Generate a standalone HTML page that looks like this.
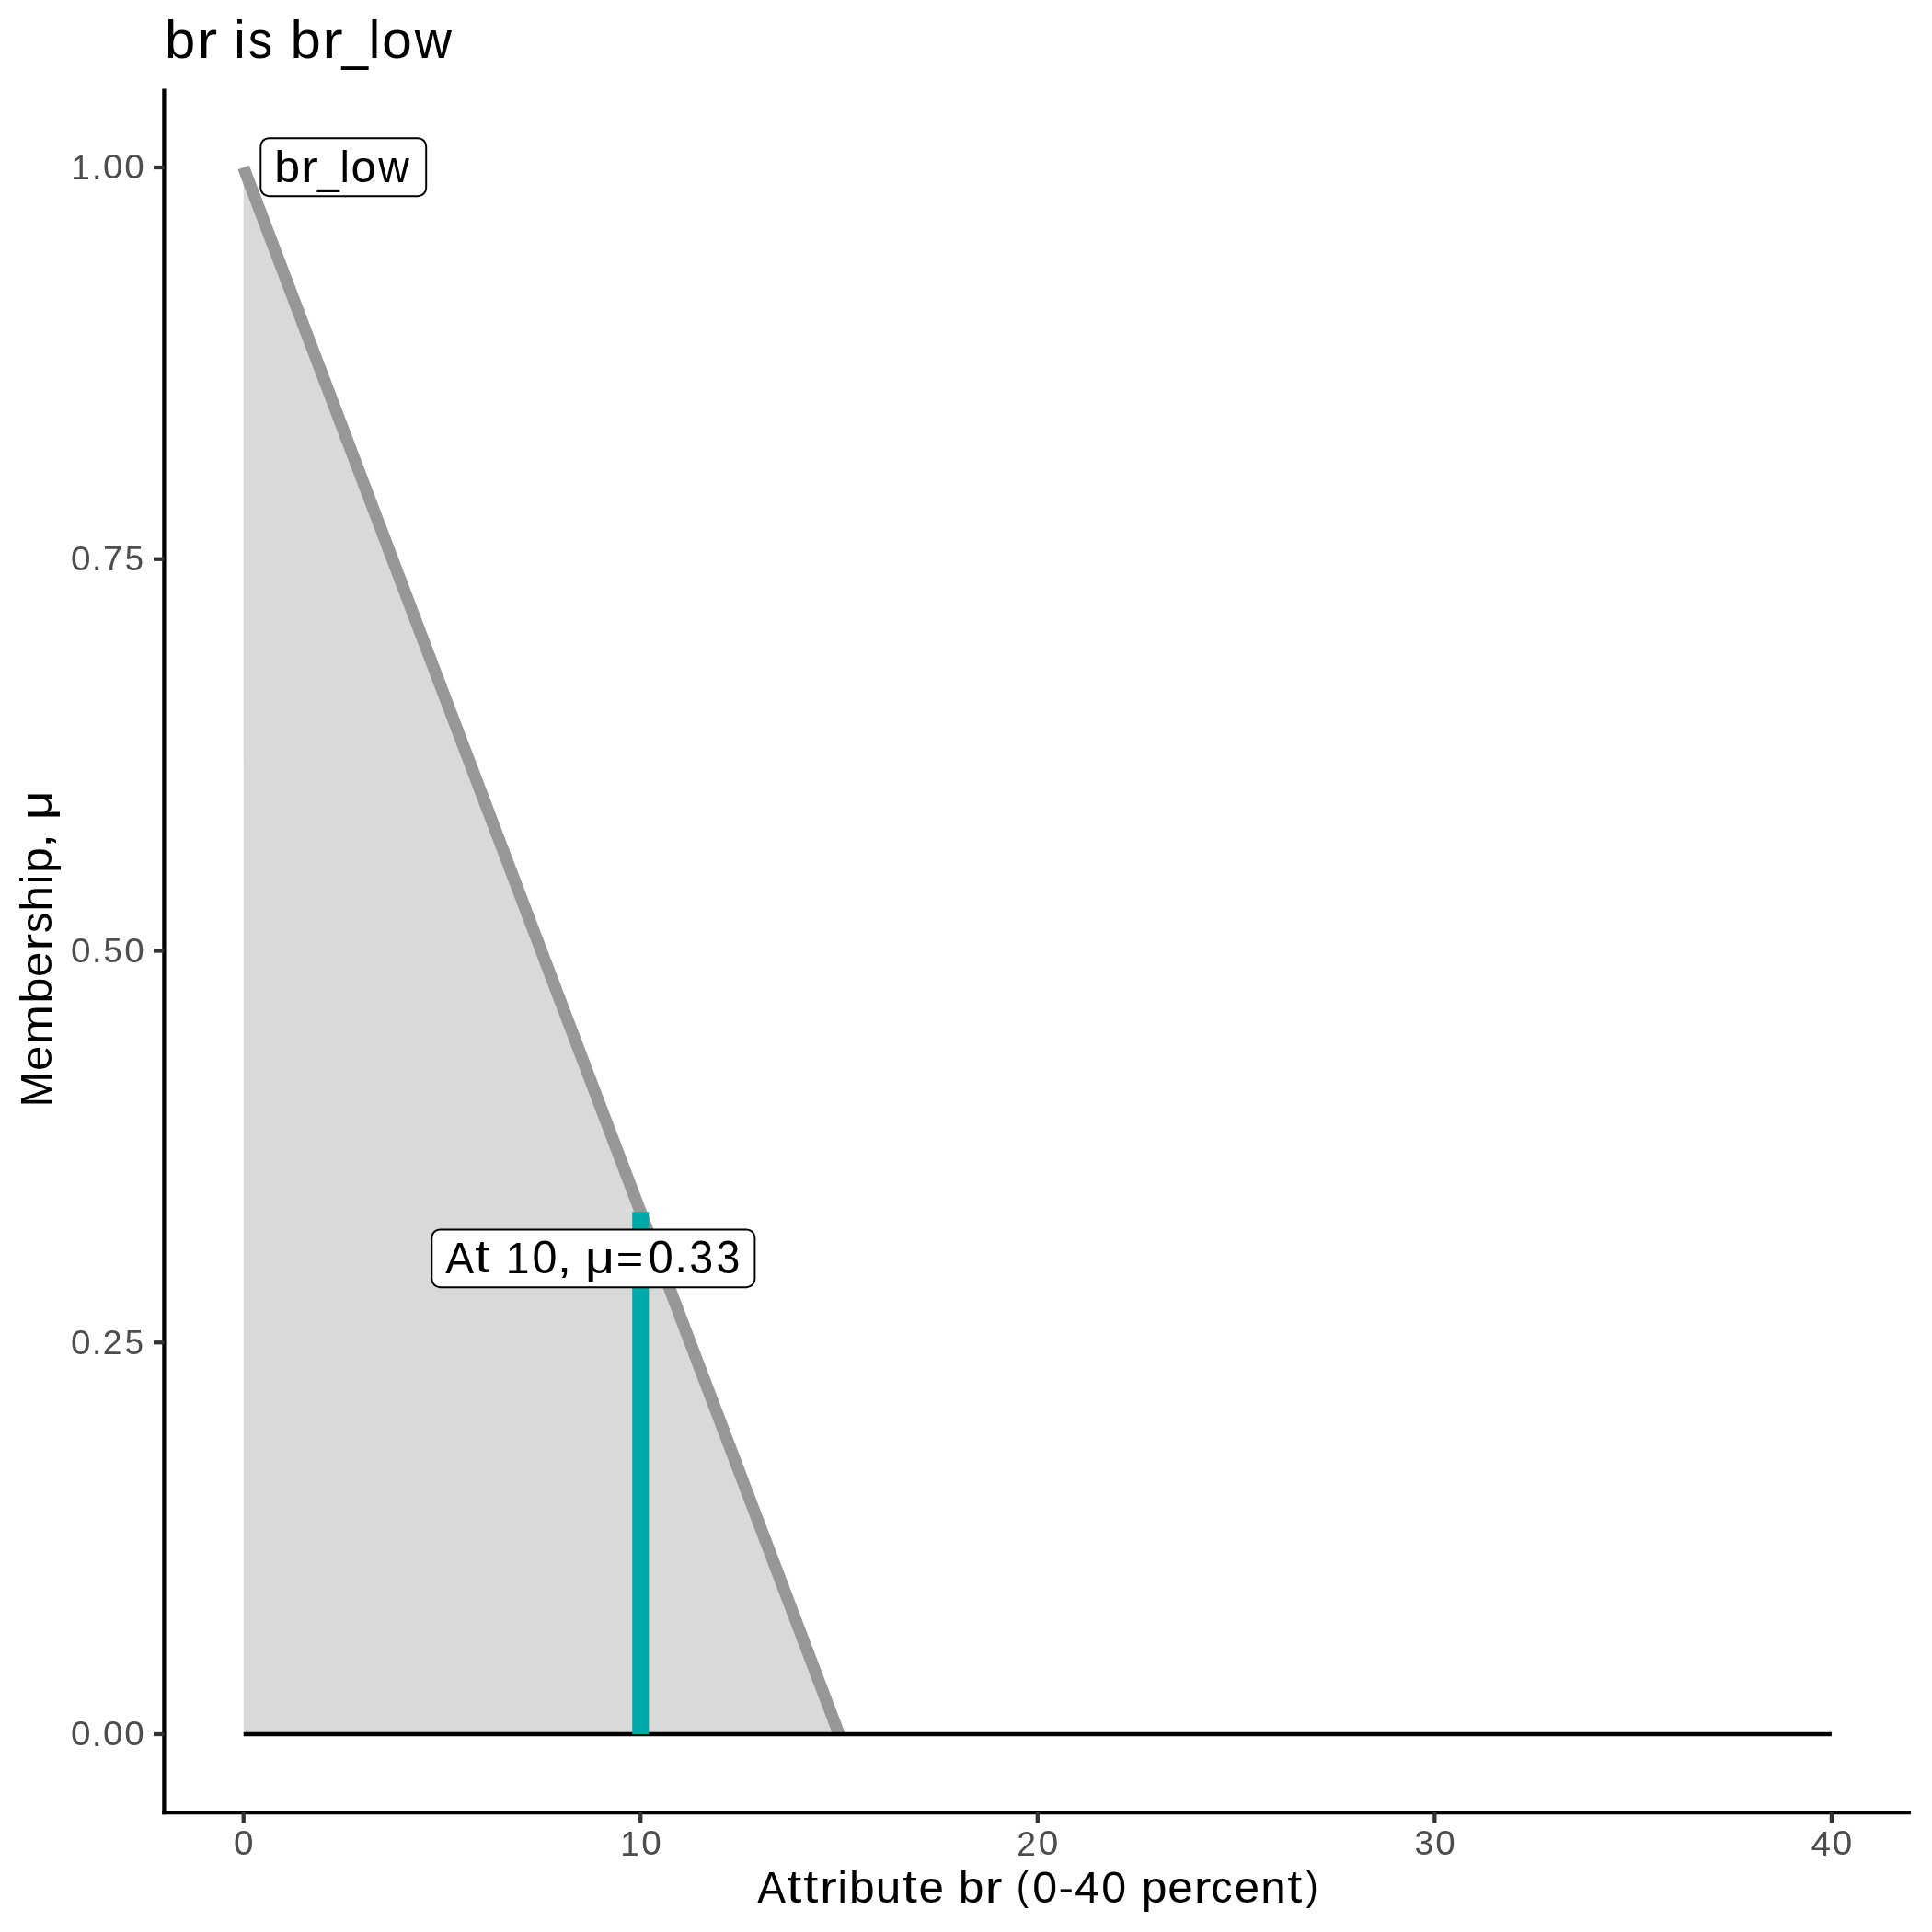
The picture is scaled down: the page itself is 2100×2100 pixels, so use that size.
<!DOCTYPE html>
<html>
<head>
<meta charset="utf-8">
<title>br is br_low</title>
<style>
html,body{margin:0;padding:0;background:#ffffff;width:2100px;height:2100px;overflow:hidden;}
svg{display:block;will-change:transform;}
text{font-family:"Liberation Sans",sans-serif;}
</style>
</head>
<body>
<svg width="2100" height="2100" viewBox="0 0 2100 2100">
<rect x="0" y="0" width="2100" height="2100" fill="#ffffff"/>
<polygon points="264.7,182 264.7,1885 912.03,1885" fill="#d9d9d9"/>
<line x1="264.7" y1="182" x2="912.03" y2="1885" stroke="#979797" stroke-width="13.2" stroke-linecap="butt"/>
<line x1="264.7" y1="1885" x2="1990.9" y2="1885" stroke="#000000" stroke-width="4.27"/>
<rect x="687.2" y="1317.33" width="18.1" height="567.67" fill="#00aaaa"/>
<line x1="178.4" y1="96.4" x2="178.4" y2="1972.25" stroke="#000000" stroke-width="4.27"/>
<line x1="176.27" y1="1970.1" x2="2077" y2="1970.1" stroke="#000000" stroke-width="4.27"/>
<g stroke="#333333" stroke-width="4.27">
<line x1="167.0" y1="1885" x2="178.4" y2="1885"/>
<line x1="167.0" y1="1459.25" x2="178.4" y2="1459.25"/>
<line x1="167.0" y1="1033.5" x2="178.4" y2="1033.5"/>
<line x1="167.0" y1="607.75" x2="178.4" y2="607.75"/>
<line x1="167.0" y1="182" x2="178.4" y2="182"/>
<line x1="264.7" y1="1970.1" x2="264.7" y2="1981.5"/>
<line x1="696.25" y1="1970.1" x2="696.25" y2="1981.5"/>
<line x1="1127.8" y1="1970.1" x2="1127.8" y2="1981.5"/>
<line x1="1559.35" y1="1970.1" x2="1559.35" y2="1981.5"/>
<line x1="1990.9" y1="1970.1" x2="1990.9" y2="1981.5"/>
</g>
<text transform="translate(157.7,1897.7)" fill="#4d4d4d"><tspan x="-80.73" y="-0.36" font-size="36.44" textLength="21.50" lengthAdjust="spacingAndGlyphs">0</tspan><tspan x="-58.01" y="-0.08" font-size="41.07" textLength="11.02" lengthAdjust="spacingAndGlyphs">.</tspan><tspan x="-45.75" y="-0.36" font-size="36.44" textLength="21.50" lengthAdjust="spacingAndGlyphs">0</tspan><tspan x="-22.42" y="-0.36" font-size="36.44" textLength="21.50" lengthAdjust="spacingAndGlyphs">0</tspan></text>
<text transform="translate(157.7,1471.95)" fill="#4d4d4d"><tspan x="-80.73" y="-0.36" font-size="36.44" textLength="21.50" lengthAdjust="spacingAndGlyphs">0</tspan><tspan x="-58.01" y="-0.08" font-size="41.07" textLength="11.02" lengthAdjust="spacingAndGlyphs">.</tspan><tspan x="-45.85" y="0" font-size="36.95" textLength="20.72" lengthAdjust="spacingAndGlyphs">2</tspan><tspan x="-21.96" y="-0.36" font-size="36.98" textLength="20.29" lengthAdjust="spacingAndGlyphs">5</tspan></text>
<text transform="translate(157.7,1046.2)" fill="#4d4d4d"><tspan x="-80.73" y="-0.36" font-size="36.44" textLength="21.50" lengthAdjust="spacingAndGlyphs">0</tspan><tspan x="-58.01" y="-0.08" font-size="41.07" textLength="11.02" lengthAdjust="spacingAndGlyphs">.</tspan><tspan x="-45.29" y="-0.36" font-size="36.98" textLength="20.29" lengthAdjust="spacingAndGlyphs">5</tspan><tspan x="-22.42" y="-0.36" font-size="36.44" textLength="21.50" lengthAdjust="spacingAndGlyphs">0</tspan></text>
<text transform="translate(157.7,620.45)" fill="#4d4d4d"><tspan x="-80.73" y="-0.36" font-size="36.44" textLength="21.50" lengthAdjust="spacingAndGlyphs">0</tspan><tspan x="-58.01" y="-0.08" font-size="41.07" textLength="11.02" lengthAdjust="spacingAndGlyphs">.</tspan><tspan x="-45.59" y="0" font-size="37.50" textLength="21.03" lengthAdjust="spacingAndGlyphs">7</tspan><tspan x="-21.96" y="-0.36" font-size="36.98" textLength="20.29" lengthAdjust="spacingAndGlyphs">5</tspan></text>
<text transform="translate(157.7,194.7)" fill="#4d4d4d"><tspan x="-80.42" y="0" font-size="37.50" textLength="20.53" lengthAdjust="spacingAndGlyphs">1</tspan><tspan x="-58.01" y="-0.08" font-size="41.07" textLength="11.02" lengthAdjust="spacingAndGlyphs">.</tspan><tspan x="-45.75" y="-0.36" font-size="36.44" textLength="21.50" lengthAdjust="spacingAndGlyphs">0</tspan><tspan x="-22.42" y="-0.36" font-size="36.44" textLength="21.50" lengthAdjust="spacingAndGlyphs">0</tspan></text>
<text transform="translate(264.7,2016.75)" fill="#4d4d4d"><tspan x="-10.76" y="-0.35" font-size="36.23" textLength="21.50" lengthAdjust="spacingAndGlyphs">0</tspan></text>
<text transform="translate(696.25,2016.75)" fill="#4d4d4d"><tspan x="-22.11" y="0" font-size="37.28" textLength="20.53" lengthAdjust="spacingAndGlyphs">1</tspan><tspan x="0.91" y="-0.35" font-size="36.23" textLength="21.50" lengthAdjust="spacingAndGlyphs">0</tspan></text>
<text transform="translate(1127.8,2016.75)" fill="#4d4d4d"><tspan x="-22.52" y="0" font-size="36.74" textLength="20.72" lengthAdjust="spacingAndGlyphs">2</tspan><tspan x="0.91" y="-0.35" font-size="36.23" textLength="21.50" lengthAdjust="spacingAndGlyphs">0</tspan></text>
<text transform="translate(1559.35,2016.75)" fill="#4d4d4d"><tspan x="-21.95" y="-0.35" font-size="36.23" textLength="20.64" lengthAdjust="spacingAndGlyphs">3</tspan><tspan x="0.91" y="-0.35" font-size="36.23" textLength="21.50" lengthAdjust="spacingAndGlyphs">0</tspan></text>
<text transform="translate(1990.9,2016.75)" fill="#4d4d4d"><tspan x="-22.43" y="0" font-size="37.28" textLength="21.50" lengthAdjust="spacingAndGlyphs">4</tspan><tspan x="0.91" y="-0.35" font-size="36.23" textLength="21.50" lengthAdjust="spacingAndGlyphs">0</tspan></text>
<text id="t_title" transform="translate(177.95,63)" fill="#000"><tspan x="1.14" y="0.21" font-size="57.96" textLength="33.28" lengthAdjust="spacingAndGlyphs">b</tspan><tspan x="35.79" y="0" font-size="57.25" textLength="22.49" lengthAdjust="spacingAndGlyphs">r</tspan> <tspan x="76.43" y="0" font-size="57.67" textLength="12.49" lengthAdjust="spacingAndGlyphs">i</tspan><tspan x="91.8" y="0.21" font-size="57.80" textLength="26.36" lengthAdjust="spacingAndGlyphs">s</tspan> <tspan x="137.56" y="0.21" font-size="57.96" textLength="33.28" lengthAdjust="spacingAndGlyphs">b</tspan><tspan x="172.21" y="0" font-size="57.25" textLength="22.49" lengthAdjust="spacingAndGlyphs">r</tspan><tspan x="193.5" y="0.95" font-size="60.50" textLength="28.60" lengthAdjust="spacingAndGlyphs">_</tspan><tspan x="222.84" y="0" font-size="57.67" textLength="12.49" lengthAdjust="spacingAndGlyphs">l</tspan><tspan x="237.31" y="0.22" font-size="57.65" textLength="32.52" lengthAdjust="spacingAndGlyphs">o</tspan><tspan x="272.77" y="0" font-size="56.93" textLength="40.15" lengthAdjust="spacingAndGlyphs">w</tspan></text>
<text id="t_xtitle" transform="translate(823.1,2068)" fill="#000"><tspan x="0.27" y="0" font-size="48.57" textLength="30.80" lengthAdjust="spacingAndGlyphs">A</tspan><tspan x="32.12" y="-0.38" font-size="49.18" textLength="16.12" lengthAdjust="spacingAndGlyphs">t</tspan><tspan x="50.09" y="-0.38" font-size="49.18" textLength="16.12" lengthAdjust="spacingAndGlyphs">t</tspan><tspan x="68.02" y="0" font-size="47.70" textLength="18.75" lengthAdjust="spacingAndGlyphs">r</tspan><tspan x="87.32" y="0" font-size="48.06" textLength="10.41" lengthAdjust="spacingAndGlyphs">i</tspan><tspan x="99.82" y="0.18" font-size="48.30" textLength="27.73" lengthAdjust="spacingAndGlyphs">b</tspan><tspan x="128.65" y="0.17" font-size="48.91" textLength="27.48" lengthAdjust="spacingAndGlyphs">u</tspan><tspan x="157.78" y="-0.38" font-size="49.18" textLength="16.12" lengthAdjust="spacingAndGlyphs">t</tspan><tspan x="175.41" y="0.18" font-size="48.04" textLength="27.53" lengthAdjust="spacingAndGlyphs">e</tspan> <tspan x="218.7" y="0.18" font-size="48.30" textLength="27.73" lengthAdjust="spacingAndGlyphs">b</tspan><tspan x="247.57" y="0" font-size="47.70" textLength="18.75" lengthAdjust="spacingAndGlyphs">r</tspan> <tspan x="281.79" y="-3.03" font-size="43.82" textLength="12.90" lengthAdjust="spacingAndGlyphs">(</tspan><tspan x="299.27" y="0.17" font-size="48.96" textLength="26.87" lengthAdjust="spacingAndGlyphs">0</tspan><tspan x="327.34" y="-0.08" font-size="46.98" textLength="16.45" lengthAdjust="spacingAndGlyphs">-</tspan><tspan x="344.97" y="0" font-size="48.57" textLength="26.87" lengthAdjust="spacingAndGlyphs">4</tspan><tspan x="374.13" y="0.17" font-size="48.96" textLength="26.87" lengthAdjust="spacingAndGlyphs">0</tspan> <tspan x="417.68" y="-0.27" font-size="47.24" textLength="27.73" lengthAdjust="spacingAndGlyphs">p</tspan><tspan x="446.25" y="0.18" font-size="48.04" textLength="27.53" lengthAdjust="spacingAndGlyphs">e</tspan><tspan x="474.75" y="0" font-size="47.70" textLength="18.75" lengthAdjust="spacingAndGlyphs">r</tspan><tspan x="493.44" y="0.18" font-size="48.04" textLength="22.99" lengthAdjust="spacingAndGlyphs">c</tspan><tspan x="518.49" y="0.18" font-size="48.04" textLength="27.53" lengthAdjust="spacingAndGlyphs">e</tspan><tspan x="547.14" y="0" font-size="47.70" textLength="27.48" lengthAdjust="spacingAndGlyphs">n</tspan><tspan x="576.07" y="-0.38" font-size="49.18" textLength="16.12" lengthAdjust="spacingAndGlyphs">t</tspan><tspan x="596.72" y="-3.03" font-size="43.82" textLength="12.90" lengthAdjust="spacingAndGlyphs">)</tspan></text>
<text id="t_ytitle" transform="translate(55.8,1203.9) rotate(-90)" fill="#000"><tspan x="0.75" y="0" font-size="48.57" textLength="38.07" lengthAdjust="spacingAndGlyphs">M</tspan><tspan x="39.97" y="0.18" font-size="48.04" textLength="27.53" lengthAdjust="spacingAndGlyphs">e</tspan><tspan x="68.44" y="0" font-size="47.70" textLength="43.50" lengthAdjust="spacingAndGlyphs">m</tspan><tspan x="113.34" y="0.18" font-size="48.30" textLength="27.73" lengthAdjust="spacingAndGlyphs">b</tspan><tspan x="141.91" y="0.18" font-size="48.04" textLength="27.53" lengthAdjust="spacingAndGlyphs">e</tspan><tspan x="170.41" y="0" font-size="47.70" textLength="18.75" lengthAdjust="spacingAndGlyphs">r</tspan><tspan x="189.79" y="0.18" font-size="48.17" textLength="21.97" lengthAdjust="spacingAndGlyphs">s</tspan><tspan x="213.12" y="0" font-size="48.06" textLength="27.67" lengthAdjust="spacingAndGlyphs">h</tspan><tspan x="242.64" y="0" font-size="48.06" textLength="10.41" lengthAdjust="spacingAndGlyphs">i</tspan><tspan x="255.13" y="-0.27" font-size="47.24" textLength="27.73" lengthAdjust="spacingAndGlyphs">p</tspan><tspan x="282.41" y="-0.67" font-size="46.88" textLength="15.37" lengthAdjust="spacingAndGlyphs">,</tspan> <tspan x="312.57" y="0.32" font-size="48.04" textLength="31.94" lengthAdjust="spacingAndGlyphs">μ</tspan></text>
<rect x="283.3" y="150.15" width="179.9" height="63.05" rx="9" ry="9" fill="#ffffff" stroke="#000000" stroke-width="1.95"/>
<text id="t_lab1" transform="translate(297.2,198)" fill="#000"><tspan x="0.95" y="0.18" font-size="48.48" textLength="27.83" lengthAdjust="spacingAndGlyphs">b</tspan><tspan x="29.93" y="0" font-size="47.88" textLength="18.81" lengthAdjust="spacingAndGlyphs">r</tspan><tspan x="47.74" y="0.79" font-size="50.60" textLength="23.92" lengthAdjust="spacingAndGlyphs">_</tspan><tspan x="72.28" y="0" font-size="48.23" textLength="10.45" lengthAdjust="spacingAndGlyphs">l</tspan><tspan x="84.38" y="0.18" font-size="48.21" textLength="27.20" lengthAdjust="spacingAndGlyphs">o</tspan><tspan x="114.03" y="0" font-size="47.62" textLength="33.58" lengthAdjust="spacingAndGlyphs">w</tspan></text>
<rect x="469.3" y="1336.4" width="351.1" height="62.8" rx="9" ry="9" fill="#ffffff" stroke="#000000" stroke-width="1.95"/>
<text id="t_lab2" transform="translate(484,1383.5)" fill="#000"><tspan x="0.27" y="0" font-size="48.74" textLength="30.91" lengthAdjust="spacingAndGlyphs">A</tspan><tspan x="32.23" y="-0.39" font-size="49.36" textLength="16.18" lengthAdjust="spacingAndGlyphs">t</tspan> <tspan x="65.65" y="0" font-size="48.74" textLength="25.76" lengthAdjust="spacingAndGlyphs">1</tspan><tspan x="94.53" y="0.17" font-size="49.14" textLength="26.97" lengthAdjust="spacingAndGlyphs">0</tspan><tspan x="121.79" y="-0.67" font-size="47.05" textLength="15.43" lengthAdjust="spacingAndGlyphs">,</tspan> <tspan x="152.06" y="0.32" font-size="48.21" textLength="32.06" lengthAdjust="spacingAndGlyphs">μ</tspan><tspan x="185.71" y="-0.32" font-size="42.78" textLength="29.48" lengthAdjust="spacingAndGlyphs">=</tspan><tspan x="220.85" y="0.17" font-size="49.14" textLength="26.97" lengthAdjust="spacingAndGlyphs">0</tspan><tspan x="249.35" y="-0.1" font-size="51.52" textLength="13.83" lengthAdjust="spacingAndGlyphs">.</tspan><tspan x="265.33" y="0.17" font-size="49.14" textLength="25.90" lengthAdjust="spacingAndGlyphs">3</tspan><tspan x="294.6" y="0.17" font-size="49.14" textLength="25.90" lengthAdjust="spacingAndGlyphs">3</tspan></text>
</svg>
</body>
</html>
